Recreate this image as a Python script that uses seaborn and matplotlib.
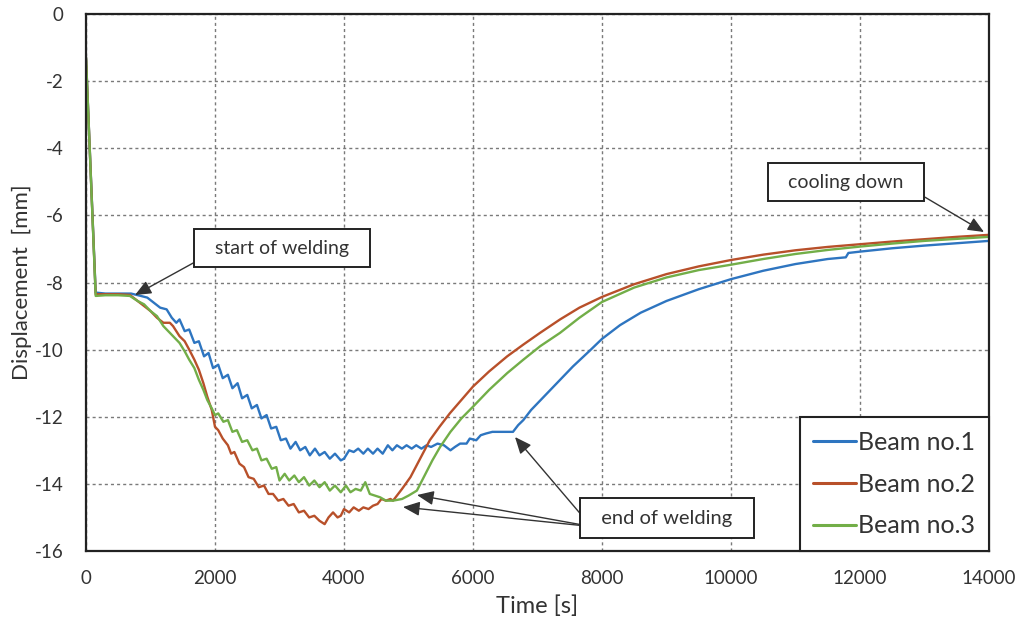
import numpy as np
import pandas as pd
import matplotlib
matplotlib.use("Agg")
import matplotlib.pyplot as plt
import seaborn as sns

# ---------------- data ----------------
t1 = [0, 150, 300, 500, 700, 850, 950, 1050, 1150, 1250, 1330, 1400, 1450, 1530, 1600, 1680, 1750,
      1830, 1900, 1970, 2050, 2120, 2200, 2270, 2350, 2420, 2500, 2570, 2650, 2720, 2800, 2870, 2950,
      3020, 3100, 3170, 3250, 3320, 3400, 3470, 3550, 3620, 3700, 3780, 3860, 3950, 4000, 4080, 4150,
      4220, 4300, 4370, 4450, 4520, 4600, 4680, 4750, 4820, 4900, 4970, 5050, 5120, 5200, 5280, 5350,
      5450, 5550, 5650, 5720, 5800, 5900, 5950, 6050, 6120, 6200, 6300, 6450, 6620, 6700, 6780, 6900,
      7050, 7300, 7550, 7800, 8000, 8280, 8600, 9000, 9500, 10000, 10500, 11000, 11500, 11780, 11820,
      12000, 12500, 13000, 13500, 14000]
y1 = [-1.3, -8.3, -8.33, -8.33, -8.33, -8.4, -8.45, -8.6, -8.75, -8.8, -9.05, -9.2, -9.1, -9.45, -9.4,
      -9.8, -9.75, -10.2, -10.1, -10.55, -10.45, -10.85, -10.75, -11.15, -11.0, -11.45, -11.35, -11.75,
      -11.65, -12.05, -11.95, -12.35, -12.3, -12.7, -12.65, -12.95, -12.75, -13.0, -12.9, -13.15, -12.95,
      -13.15, -13.05, -13.25, -13.1, -13.3, -13.25, -13.0, -13.05, -12.95, -13.1, -12.95, -13.1, -12.95,
      -13.1, -12.85, -13.0, -12.85, -12.95, -12.85, -12.95, -12.85, -12.95, -12.85, -12.9, -12.8, -12.85,
      -13.0, -12.9, -12.8, -12.8, -12.65, -12.7, -12.55, -12.5, -12.45, -12.45, -12.45, -12.25, -12.1,
      -11.8, -11.5, -11.0, -10.5, -10.05, -9.68, -9.27, -8.9, -8.55, -8.2, -7.9, -7.65, -7.45, -7.3,
      -7.25, -7.12, -7.08, -6.98, -6.9, -6.83, -6.76]

t2 = [0, 150, 300, 500, 680, 800, 900, 1000, 1100, 1200, 1300, 1350, 1450, 1530, 1600, 1680, 1750,
      1820, 1880, 1950, 2000, 2050, 2120, 2200, 2250, 2300, 2380, 2450, 2520, 2600, 2680, 2760, 2830,
      2900, 2980, 3060, 3140, 3220, 3300, 3380, 3460, 3540, 3620, 3700, 3760, 3830, 3900, 3950, 4000,
      4080, 4150, 4230, 4300, 4380, 4450, 4520, 4580, 4650, 4720, 4760, 4900, 5030, 5180, 5330, 5480,
      5640, 5820, 6000, 6250, 6530, 6780, 7040, 7350, 7650, 8000, 8500, 9000, 9500, 10000, 10500,
      11000, 11500, 12000, 12500, 13000, 13500, 14000]
y2 = [-1.3, -8.35, -8.35, -8.35, -8.37, -8.55, -8.7, -8.85, -9.05, -9.2, -9.2, -9.3, -9.6, -9.75,
      -10.0, -10.3, -10.6, -11.0, -11.4, -11.8, -12.3, -12.4, -12.65, -12.85, -13.1, -13.05, -13.4, -13.5,
      -13.8, -13.85, -14.1, -14.05, -14.3, -14.3, -14.5, -14.45, -14.65, -14.6, -14.85, -14.8, -15.0,
      -14.95, -15.1, -15.2, -15.0, -14.85, -15.0, -14.95, -14.75, -14.85, -14.7, -14.8, -14.7, -14.75,
      -14.65, -14.6, -14.45, -14.5, -14.45, -14.5, -14.15, -13.8, -13.25, -12.7, -12.3, -11.9, -11.5,
      -11.1, -10.65, -10.2, -9.85, -9.5, -9.1, -8.75, -8.43, -8.05, -7.75, -7.52, -7.33, -7.17, -7.04,
      -6.94, -6.86, -6.78, -6.71, -6.64, -6.58]

t3 = [0, 150, 300, 500, 680, 800, 900, 1000, 1100, 1200, 1300, 1400, 1450, 1530, 1600, 1680, 1750,
      1820, 1880, 1950, 2000, 2050, 2130, 2200, 2270, 2340, 2420, 2500, 2580, 2650, 2720, 2800, 2880,
      2950, 3000, 3080, 3150, 3230, 3300, 3380, 3460, 3540, 3620, 3700, 3780, 3860, 3950, 4030, 4100,
      4180, 4260, 4330, 4400, 4480, 4560, 4650, 4760, 4900, 5000, 5130, 5250, 5370, 5490, 5650, 5820,
      6000, 6250, 6530, 6780, 7040, 7350, 7650, 8000, 8500, 9000, 9500, 10000, 10500, 11000, 11500,
      12000, 12500, 13000, 13500, 14000]
y3 = [-1.3, -8.4, -8.38, -8.38, -8.4, -8.55, -8.65, -8.85, -9.0, -9.3, -9.5, -9.7, -9.8, -10.05,
      -10.3, -10.55, -10.9, -11.2, -11.5, -11.75, -11.95, -11.9, -12.15, -12.1, -12.45, -12.4, -12.75,
      -12.7, -13.0, -12.95, -13.3, -13.25, -13.55, -13.5, -13.9, -13.7, -13.9, -13.75, -13.95, -13.8,
      -14.05, -13.9, -14.1, -13.95, -14.2, -14.05, -14.25, -14.05, -14.25, -14.15, -14.2, -13.95, -14.3,
      -14.35, -14.4, -14.5, -14.5, -14.45, -14.35, -14.2, -13.75, -13.3, -12.9, -12.45, -12.05, -11.7,
      -11.2, -10.7, -10.3, -9.9, -9.5, -9.05, -8.58, -8.15, -7.85, -7.63, -7.47, -7.3, -7.15, -7.03,
      -6.93, -6.84, -6.76, -6.7, -6.64]

series_names = ["Beam no.1", "Beam no.2", "Beam no.3"]
colors = ["#2E75C0", "#B8502A", "#72AE48"]

xticks = [0, 2000, 4000, 6000, 8000, 10000, 12000, 14000]
yticks = [0, -2, -4, -6, -8, -10, -12, -14, -16]

# ---------------- plot ----------------
df = pd.concat([
    pd.DataFrame({"Time": t1, "Disp": y1, "Beam": series_names[0]}),
    pd.DataFrame({"Time": t2, "Disp": y2, "Beam": series_names[1]}),
    pd.DataFrame({"Time": t3, "Disp": y3, "Beam": series_names[2]}),
], ignore_index=True)

sns.set_style("white")
plt.rcParams["font.family"] = ["Lato", "DejaVu Sans"]
plt.rcParams["text.color"] = "#333333"

fig = plt.figure(figsize=(10.25, 6.22), dpi=100)
ax = fig.add_axes([86 / 1025, 1 - 551 / 622, (989 - 86) / 1025, (551 - 14) / 622])

sns.lineplot(data=df, x="Time", y="Disp", hue="Beam", hue_order=series_names,
             palette=colors, linewidth=1.7, ax=ax, sort=False, estimator=None)

ax.set_xlim(0, 14000)
ax.set_ylim(-16, 0)
ax.set_xticks(xticks)
ax.set_yticks(yticks)
ax.set_xticklabels([str(v) for v in xticks], fontsize=13.5, color="#333333")
ax.set_yticklabels([str(v) for v in yticks], fontsize=13.5, color="#333333")
ax.tick_params(axis="both", length=0)
ax.tick_params(axis="y", pad=16)
ax.tick_params(axis="x", pad=14)
ax.grid(True, color="#7a7a7a", linestyle=(0, (2.2, 2.2)), linewidth=1.0)
for s in ax.spines.values():
    s.set_color("#222222")
    s.set_linewidth(1.6)

ax.set_xlabel("Time [s]", fontsize=17, color="#333333")
ax.set_ylabel("Displacement  [mm]", fontsize=16, color="#333333")
ax.xaxis.set_label_coords(0.5, -0.083)
ax.yaxis.set_label_coords(-0.06, 0.5)

leg = ax.legend(loc="lower right", borderaxespad=0, fontsize=18, frameon=True, fancybox=False,
                framealpha=1, edgecolor="#222222", handlelength=1.7, handletextpad=0.1,
                labelspacing=0.75, borderpad=0.55)
leg.get_frame().set_linewidth(1.5)
for line in leg.get_lines():
    line.set_linewidth(2.2)


def px2data(px, py):
    return ((px - 86) / 129 * 2000, -(py - 14) / 33.56)


box = dict(boxstyle="square,pad=0.55", fc="white", ec="#222222", lw=1.4)
arrow = dict(arrowstyle="-|>,head_length=0.7,head_width=0.3", color="#333333", lw=1.0,
             shrinkA=0, shrinkB=0)

# start of welding
ax.annotate("  start of welding  ", xy=px2data(135, 295), xytext=px2data(282, 248),
            fontsize=14, ha="center", va="center", bbox=box,
            arrowprops=dict(arrow, relpos=(0, 0)), zorder=5)
# cooling down
ax.annotate("  cooling down  ", xy=px2data(984, 232), xytext=px2data(846, 182),
            fontsize=14, ha="center", va="center", bbox=box,
            arrowprops=dict(arrow, relpos=(1, 0)), zorder=5)
# end of welding (three arrows)
inv_box = dict(boxstyle="square,pad=0.55", fc="none", ec="none", lw=1.4)
for tgt in [(515, 437), (417, 495), (403, 507)]:
    ax.annotate("  end of welding  ", xy=px2data(*tgt), xytext=px2data(667, 518),
                fontsize=14.5, ha="center", va="center", bbox=inv_box, color="none",
                arrowprops=dict(arrow, relpos=(0, 0)), zorder=5)
ax.annotate("  end of welding  ", xy=px2data(667, 518), xytext=px2data(667, 518),
            fontsize=14.5, ha="center", va="center", bbox=box, zorder=6)

fig.savefig("out.png", dpi=100)
